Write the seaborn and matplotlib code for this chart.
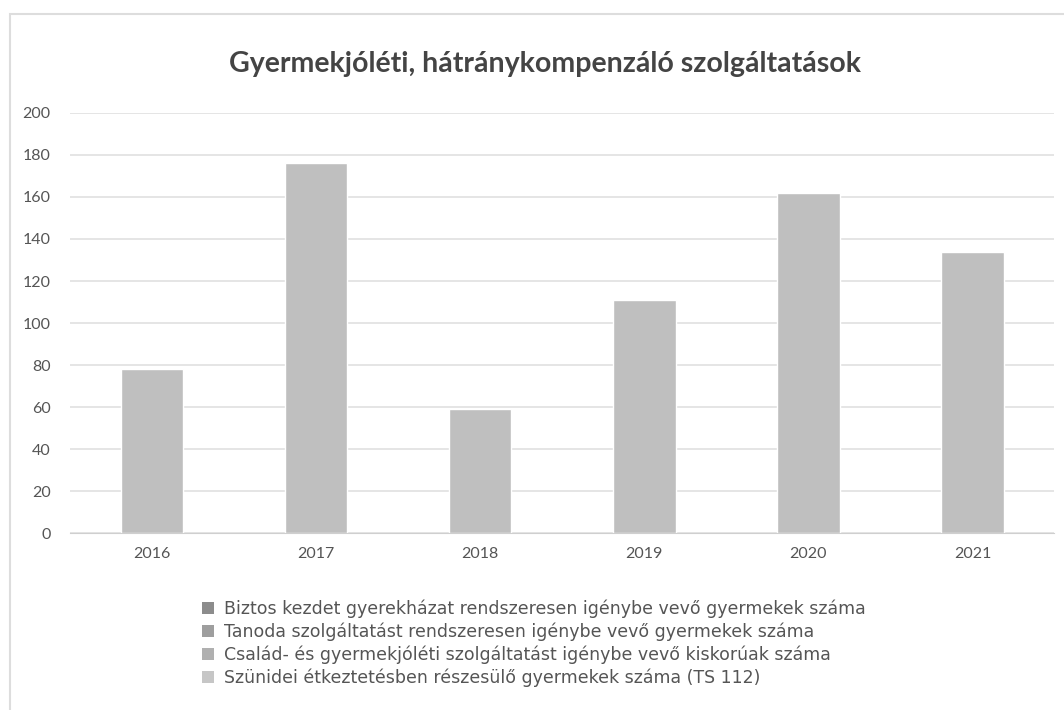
import pandas as pd
import seaborn as sns
import matplotlib.pyplot as plt
from matplotlib.patches import Patch, Rectangle

years = ['2016', '2017', '2018', '2019', '2020', '2021']
values = [78, 176, 59, 111, 162, 134]

series_names = [
    'Biztos kezdet gyerekházat rendszeresen igénybe vevő gyermekek száma',
    'Tanoda szolgáltatást rendszeresen igénybe vevő gyermekek száma',
    'Család- és gyermekjóléti szolgáltatást igénybe vevő kiskorúak száma',
    'Szünidei étkeztetésben részesülő gyermekek száma (TS 112)',
]
series_colors = ['#8c8c8c', '#9e9e9e', '#b0b0b0', '#c6c6c6']

df = pd.DataFrame({'Év': years, 'Érték': values})

sns.set_style('white')
plt.rcParams['font.family'] = ['Lato', 'DejaVu Sans']

fig = plt.figure(figsize=(10.64, 7.10), dpi=100)
ax = fig.add_axes([0.066, 0.249, 0.925, 0.592])

sns.barplot(data=df, x='Év', y='Érték', color='#bfbfbf', width=0.38,
            saturation=1, ax=ax, zorder=2)

ax.set_ylim(0, 200)
ax.set_yticks(range(0, 201, 20))
ax.grid(axis='y', color='#e0e0e0', linewidth=1.2, zorder=0)
for s in ['top', 'right', 'left']:
    ax.spines[s].set_visible(False)
ax.spines['bottom'].set_color('#cfcfcf')
ax.tick_params(axis='both', length=0, colors='#555555', labelsize=11.5)
ax.tick_params(axis='y', pad=14)
ax.tick_params(axis='x', pad=10)
ax.set_xlabel('')
ax.set_ylabel('')

fig.text(0.512, 0.91, 'Gyermekjóléti, hátránykompenzáló szolgáltatások',
         ha='center', va='center', fontsize=20.5, fontweight='bold', color='#444444')

handles = [Patch(facecolor=c, edgecolor='none') for c in series_colors]
fig.legend(handles, series_names, loc='upper left', bbox_to_anchor=(0.175, 0.177),
           frameon=False, labelcolor='#555555',
           prop={'family': ['DejaVu Sans'], 'size': 12.5},
           handlelength=0.7, handleheight=0.7, handletextpad=0.6, labelspacing=0.25)

fig.patches.append(Rectangle((0.009, -0.05), 1.2, 1.03, transform=fig.transFigure,
                             fill=False, edgecolor='#dddddd', linewidth=1.5))

fig.savefig('out.png', dpi=100, facecolor='white')
